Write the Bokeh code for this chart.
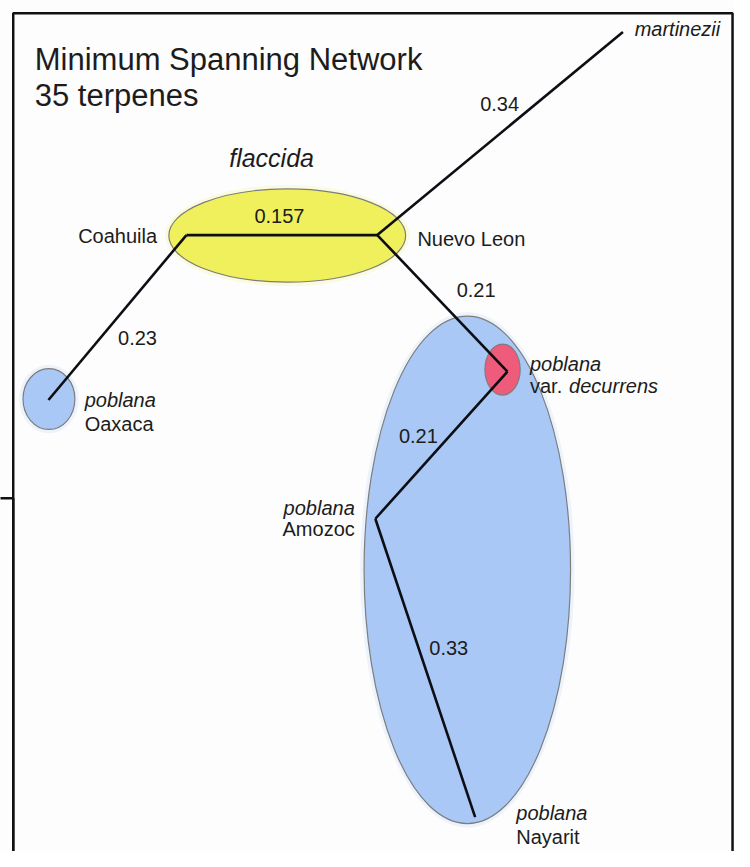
from bokeh.plotting import figure
from bokeh.models import Range1d, BoxAnnotation, ColumnDataSource
from bokeh.core.properties import value
from bokeh.embed import file_html
from bokeh.resources import INLINE

# ---------------- data (reference pixel space: x 0..750, y 0..867 downwards) -------------
node_names = ["Coahuila", "Nuevo Leon", "martinezii", "Oaxaca", "decurrens", "Amozoc", "Nayarit"]
node_x = [190, 385, 636, 49, 518, 383, 485]
node_y = [239, 239, 32, 407, 378, 528, 832]

edge_from = ["Coahuila", "Nuevo Leon", "Coahuila", "Nuevo Leon", "decurrens", "Amozoc"]
edge_to = ["Nuevo Leon", "martinezii", "Oaxaca", "decurrens", "Amozoc", "Nayarit"]
edge_dist = [0.157, 0.34, 0.23, 0.21, 0.21, 0.33]
edge_label_x = [285, 510, 140, 486, 427, 458]
edge_label_y = [220, 105, 344, 295, 444, 660]

group_names = ["poblana", "decurrens", "flaccida", "Oaxaca"]
group_x = [477, 513, 293, 49.5]
group_y = [580, 376, 239.5, 406]
group_w = [211, 36, 242, 53]
group_h = [517, 52, 95, 62]
group_color = ["#a9c8f6", "#ee5b7b", "#eff05c", "#a9c8f6"]

label_species = ["", "", "martinezii", "poblana", "poblana", "poblana", "poblana"]
label_locality = ["Coahuila", "Nuevo Leon", "", "Oaxaca", "var. decurrens", "Amozoc", "Nayarit"]
label_x = [160, 426, 648, 86, 541, 362, 527]
species_y = [0, 0, 29, 407, 370, 517, 828]
locality_y = [240, 243, 0, 431, 393, 538, 852]
label_align = ["right", "left", "left", "left", "left", "right", "left"]

title_lines = ["Minimum Spanning Network", "35 terpenes"]
group_title = "flaccida"

# ---------------- figure --------------------------------------------------------------
p = figure(width=734, height=851, x_range=Range1d(0, 750), y_range=Range1d(867, 0),
           output_backend="svg", toolbar_location=None, min_border=0,
           x_axis_location=None, y_axis_location=None)
p.grid.visible = False
p.outline_line_color = None
p.background_fill_color = "#fdfdfd"
p.border_fill_color = "#fdfdfd"

FONT = value("Liberation Sans")
INK = "#1c1c1c"

# frame lines of the scanned panel
for box in (dict(left=13, right=748, top=13, bottom=900),
            dict(left=-20, right=13, top=507, bottom=900)):
    p.add_layout(BoxAnnotation(**box, fill_alpha=0, line_color="#111111",
                               line_alpha=1.0, line_width=2.5, level="underlay"))

# group ellipses (soft halo + body)
gsrc = ColumnDataSource(dict(x=group_x, y=group_y,
                             w=[w + 8 for w in group_w], h=[h + 8 for h in group_h],
                             w0=group_w, h0=group_h, c=group_color))
p.ellipse("x", "y", width="w", height="h", source=gsrc, fill_color="c", fill_alpha=0.18,
          line_color=None)
p.ellipse("x", "y", width="w0", height="h0", source=gsrc, fill_color="c", fill_alpha=1.0,
          line_color="#7d7d7d", line_width=1.2)

# edges
idx = {n: i for i, n in enumerate(node_names)}
xs = [[node_x[idx[a]], node_x[idx[b]]] for a, b in zip(edge_from, edge_to)]
ys = [[node_y[idx[a]], node_y[idx[b]]] for a, b in zip(edge_from, edge_to)]
p.multi_line(xs, ys, line_color="#0d0d14", line_width=2.6)

# edge distance labels
p.text(edge_label_x, edge_label_y, text=[f"{d:g}" for d in edge_dist],
       text_font=FONT, text_font_size="20px", text_color=INK,
       text_align="center", text_baseline="middle")

# node labels
for i in range(len(node_names)):
    if label_species[i]:
        p.text([label_x[i]], [species_y[i]], text=[label_species[i]], text_font=FONT,
               text_font_size="20px", text_font_style="italic", text_color=INK,
               text_align=label_align[i], text_baseline="middle")
    loc = label_locality[i]
    if loc.startswith("var. "):
        p.text([label_x[i]], [locality_y[i]], text=["var."], text_font=FONT,
               text_font_size="20px", text_color=INK,
               text_align="left", text_baseline="middle")
        p.text([label_x[i] + 40], [locality_y[i]], text=[loc[5:]], text_font=FONT,
               text_font_size="20px", text_font_style="italic", text_color=INK,
               text_align="left", text_baseline="middle")
    elif loc:
        p.text([label_x[i]], [locality_y[i]], text=[loc], text_font=FONT,
               text_font_size="20px", text_color=INK,
               text_align=label_align[i], text_baseline="middle")

# titles
p.text([35, 35], [60, 97], text=title_lines, text_font=FONT, text_font_size="31px",
       text_color=INK, text_align="left", text_baseline="alphabetic")
p.text([277], [160], text=[group_title], text_font=FONT, text_font_size="25px",
       text_font_style="italic", text_color=INK, text_align="center",
       text_baseline="middle")

open("out.html", "w").write(file_html(p, INLINE))
